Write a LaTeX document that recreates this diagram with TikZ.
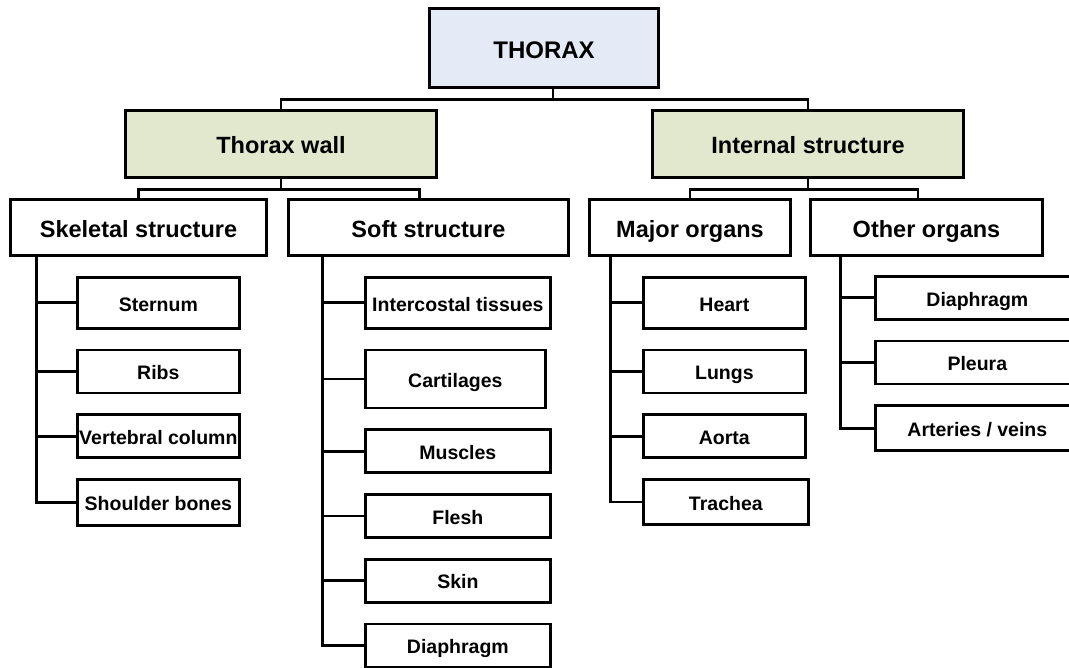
\documentclass[tikz,border=0pt]{standalone}
\usepackage{fontspec}
\setmainfont{Liberation Sans}
\usepackage{tikz}
\usetikzlibrary{positioning}
\definecolor{topblue}{RGB}{228,235,246}
\definecolor{wallgreen}{RGB}{226,232,205}

\begin{document}
\begin{tikzpicture}[x=1pt,y=-1pt,line width=2.7pt,
  box/.style={draw=black,fill=white,inner sep=0pt},
  head/.style={box,font=\bfseries\fontsize{23.5}{27}\selectfont,text height=21pt,text depth=1.2pt,minimum height=56pt},
  item/.style={box,font=\bfseries\fontsize{19.5}{23}\selectfont,text height=17.5pt,text depth=1pt,minimum height=43pt},
  skelitem/.style={item,minimum width=162pt},
  softitem/.style={item,minimum width=185pt},
  majitem/.style={item,minimum width=162pt},
  othitem/.style={item,minimum width=204pt}]
\useasboundingbox (0,0) rectangle (1069,668);
\fill[white] (0,0) rectangle (1069,668);

\node[box,fill=topblue,font=\bfseries\fontsize{24}{28}\selectfont,text height=21.5pt,text depth=1.2pt,minimum width=229pt,minimum height=79pt] (thorax) at (544,48) {THORAX};
\node[head,fill=wallgreen,minimum width=311pt,minimum height=67pt] (wall) at (281,144) {Thorax wall};
\node[head,fill=wallgreen,minimum width=311pt,minimum height=67pt] (inner) at (808,144) {Internal structure};
\node[head,minimum width=256pt] (skel) at (138.5,227.5) {Skeletal structure};
\node[head,minimum width=280pt] (soft) at (428.5,227.5) {Soft structure};
\node[head,minimum width=201pt] (major) at (690,227.5) {Major organs};
\node[head,minimum width=232pt] (other) at (926.5,227.5) {Other organs};

\draw ([xshift=9pt]thorax.south) -- ++(0,11) -| (wall.north);
\draw ([xshift=9pt]thorax.south) -- ++(0,11) -| (inner.north);
\draw (wall.south) -- ++(0,11) -| (skel.north);
\draw (wall.south) -- ++(0,11) -| ([xshift=-9pt]soft.north);
\draw (inner.south) -- ++(0,11) -| (major.north);
\draw (inner.south) -- ++(0,11) -| ([xshift=-8.5pt]other.north);

\node[skelitem,minimum height=51pt,anchor=north west] (sternum) at (76,276) {Sternum};
\node[skelitem,below=19pt of sternum.south west,anchor=north west] (ribs) {Ribs};
\node[skelitem,below=19pt of ribs.south west,anchor=north west] (vertebral) {Vertebral column};
\node[skelitem,minimum height=46pt,below=19pt of vertebral.south west,anchor=north west] (shoulder) {Shoulder bones};

\node[softitem,minimum height=51pt,anchor=north west] (intercostal) at (364,276) {Intercostal tissues};
\node[softitem,minimum width=180pt,minimum height=58pt,below=19pt of intercostal.south west,anchor=north west] (cartilages) {Cartilages};
\node[softitem,below=19pt of cartilages.south west,anchor=north west] (muscles) {Muscles};
\node[softitem,below=19pt of muscles.south west,anchor=north west] (flesh) {Flesh};
\node[softitem,below=19pt of flesh.south west,anchor=north west] (skin) {Skin};
\node[softitem,below=19pt of skin.south west,anchor=north west] (softdiaphragm) {Diaphragm};

\node[majitem,minimum height=51pt,anchor=north west] (heart) at (642,276) {Heart};
\node[majitem,below=19pt of heart.south west,anchor=north west] (lungs) {Lungs};
\node[majitem,below=19pt of lungs.south west,anchor=north west] (aorta) {Aorta};
\node[majitem,minimum width=165pt,minimum height=45pt,below=19pt of aorta.south west,anchor=north west] (trachea) {Trachea};

\node[othitem,anchor=north west] (diaphragm) at (874,275) {Diaphragm};
\node[othitem,below=19pt of diaphragm.south west,anchor=north west] (pleura) {Pleura};
\node[othitem,minimum height=45pt,below=19pt of pleura.south west,anchor=north west] (arteries) {Arteries / veins};

\coordinate (skelbus) at ([xshift=27pt]skel.south west);
\coordinate (softbus) at ([xshift=35pt]soft.south west);
\coordinate (majbus) at ([xshift=22pt]major.south west);
\coordinate (othbus) at ([xshift=31pt]other.south west);

\draw (skelbus) |- (shoulder.west);
\foreach \c in {sternum,ribs,vertebral}
  \draw (\c.west -| skelbus) -- (\c.west);
\draw (softbus) |- (softdiaphragm.west);
\foreach \c in {intercostal,cartilages,muscles,flesh,skin}
  \draw (\c.west -| softbus) -- (\c.west);
\draw (majbus) |- (trachea.west);
\foreach \c in {heart,lungs,aorta}
  \draw (\c.west -| majbus) -- (\c.west);
\draw (othbus) |- (arteries.west);
\foreach \c in {diaphragm,pleura}
  \draw (\c.west -| othbus) -- (\c.west);
\end{tikzpicture}
\end{document}
